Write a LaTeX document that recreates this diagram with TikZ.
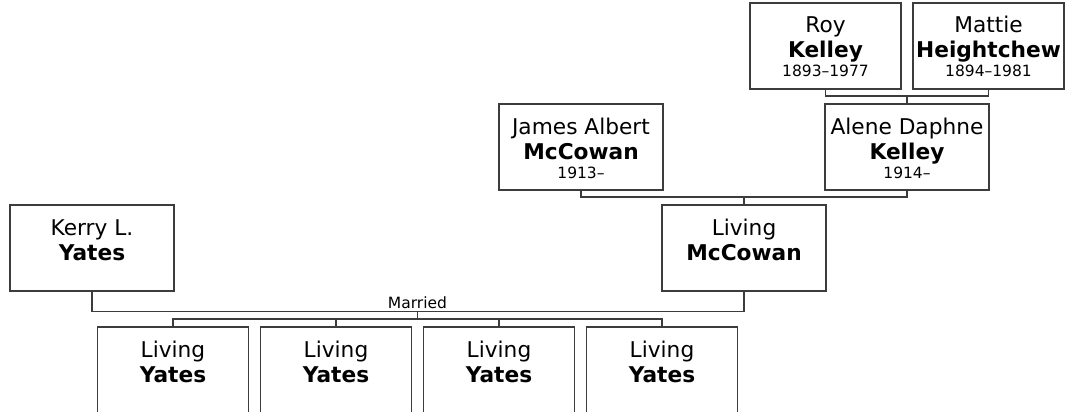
\documentclass[tikz,border=0pt]{standalone}
\usepackage{fontspec}
\setmainfont{DejaVu Sans}
\definecolor{linegray}{HTML}{3C3C3C}
\tikzset{
  pbox/.style={draw=linegray, line width=1.5pt, minimum height=86pt, inner sep=0pt, outer sep=0pt, anchor=north west},
  given/.style={anchor=base, inner sep=0pt, font=\fontsize{21.7}{21.7}\selectfont},
  surname/.style={anchor=base, inner sep=0pt, font=\fontsize{21.7}{21.7}\selectfont\bfseries},
  years/.style={anchor=base, inner sep=0pt, font=\fontsize{15.5}{15.5}\selectfont},
  conn/.style={draw=linegray, line width=1.5pt}
}
\begin{document}
\begin{tikzpicture}[x=1pt,y=-1pt]
\useasboundingbox (0,0) rectangle (1068,412);
\clip (0,0) rectangle (1068,412);
% grandparents
\node[pbox, minimum width=151pt] (roy) at (750,3) {};
\node[given] (roy-g) at ([yshift=-30pt]roy.north) {Roy};
\node[surname] (roy-s) at ([yshift=-55pt]roy.north) {Kelley};
\node[years] (roy-y) at ([yshift=-74pt]roy.north) {1893–1977};

\node[pbox, minimum width=151pt] (mattie) at (913,3) {};
\node[given] (mattie-g) at ([yshift=-30pt]mattie.north) {Mattie};
\node[surname] (mattie-s) at ([yshift=-55pt]mattie.north) {Heightchew};
\node[years] (mattie-y) at ([yshift=-74pt]mattie.north) {1894–1981};

% parents
\node[pbox, minimum width=164pt] (james) at (499,104) {};
\node[given] (james-g) at ([yshift=-30pt]james.north) {James Albert};
\node[surname] (james-s) at ([yshift=-55pt]james.north) {McCowan};
\node[years] (james-y) at ([yshift=-74pt]james.north) {1913–};

\node[pbox, minimum width=164pt] (alene) at (825,104) {};
\node[given] (alene-g) at ([yshift=-30pt]alene.north) {Alene Daphne};
\node[surname] (alene-s) at ([yshift=-55pt]alene.north) {Kelley};
\node[years] (alene-y) at ([yshift=-74pt]alene.north) {1914–};

% couple
\node[pbox, minimum width=164pt] (kerry) at (10,205) {};
\node[given] (kerry-g) at ([yshift=-30pt]kerry.north) {Kerry L.};
\node[surname] (kerry-s) at ([yshift=-55pt]kerry.north) {Yates};

\node[pbox, minimum width=164pt] (lmc) at (662,205) {};
\node[given] (lmc-g) at ([yshift=-30pt]lmc.north) {Living};
\node[surname] (lmc-s) at ([yshift=-55pt]lmc.north) {McCowan};

% children
\node[pbox, minimum width=151pt] (c1) at (97.5,327) {};
\node[given] (c1-g) at ([yshift=-30pt]c1.north) {Living};
\node[surname] (c1-s) at ([yshift=-55pt]c1.north) {Yates};
\node[pbox, minimum width=151pt] (c2) at (260.5,327) {};
\node[given] (c2-g) at ([yshift=-30pt]c2.north) {Living};
\node[surname] (c2-s) at ([yshift=-55pt]c2.north) {Yates};
\node[pbox, minimum width=151pt] (c3) at (423.5,327) {};
\node[given] (c3-g) at ([yshift=-30pt]c3.north) {Living};
\node[surname] (c3-s) at ([yshift=-55pt]c3.north) {Yates};
\node[pbox, minimum width=151pt] (c4) at (586.5,327) {};
\node[given] (c4-g) at ([yshift=-30pt]c4.north) {Living};
\node[surname] (c4-s) at ([yshift=-55pt]c4.north) {Yates};

% connectors
\coordinate (rm) at (907,96);
\draw[conn] (roy.south) |- (rm) -| (mattie.south);
\draw[conn] (rm) -- (alene.north);

\coordinate (ja) at (744,197);
\draw[conn] (james.south) |- (ja) -| (alene.south);
\draw[conn] (ja) -- (lmc.north);

\coordinate (kl) at (417.5,311.5);
\draw[conn] (kerry.south) |- (kl) -| (lmc.south);
\node[years, anchor=base] (married) at (417.5,308) {Married};
\coordinate (cb) at (417.5,319);
\draw[conn] (kl) -- (cb);
\draw[conn] (c1.north) |- (cb) -| (c4.north);
\draw[conn] (c2.north) -- (c2.north |- cb);
\draw[conn] (c3.north) -- (c3.north |- cb);
\end{tikzpicture}
\end{document}
